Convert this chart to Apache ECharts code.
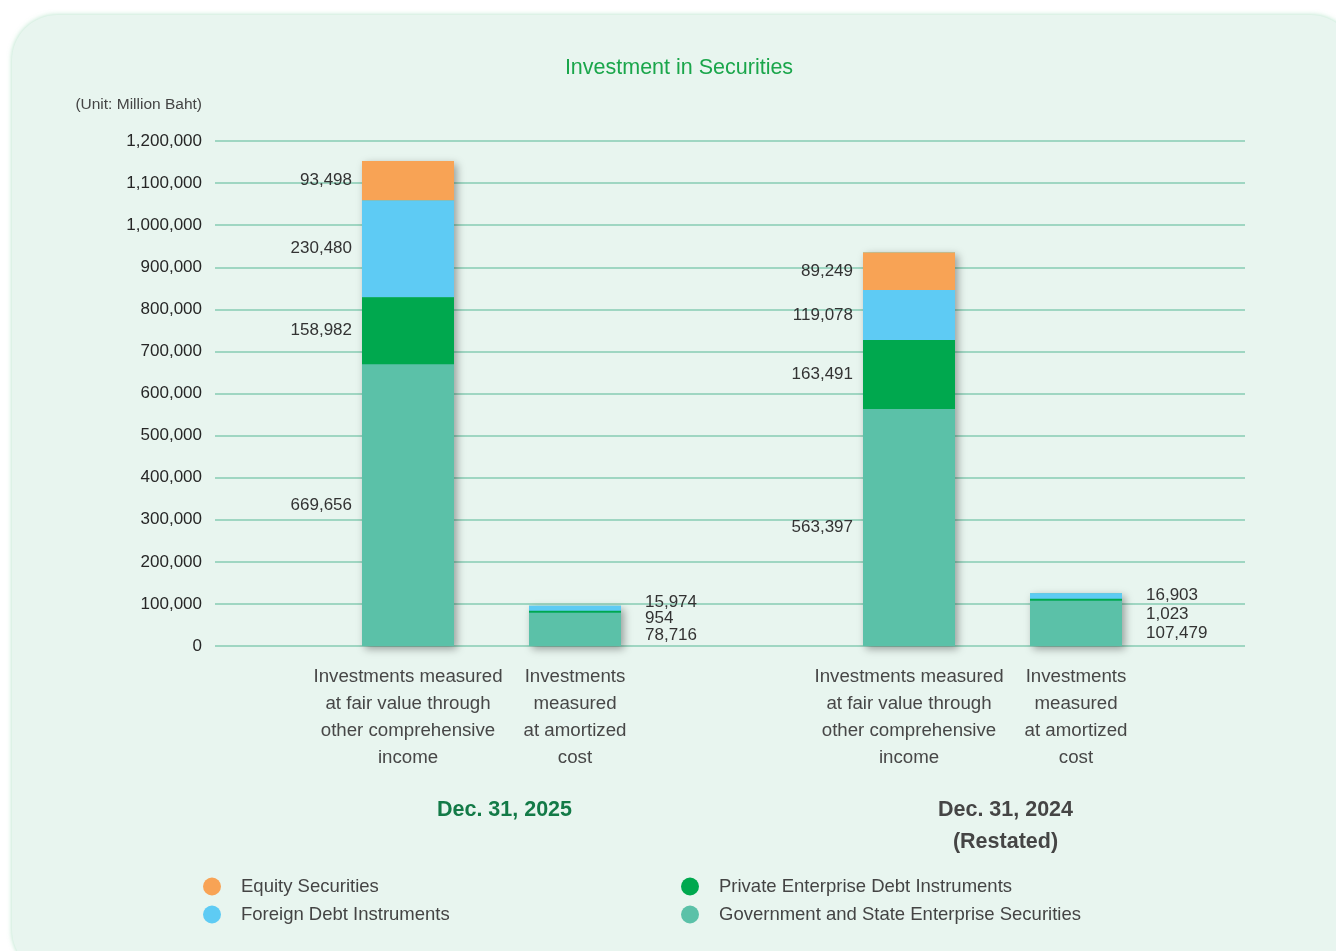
<!DOCTYPE html>
<html><head><meta charset="utf-8">
<script src="https://cdn.jsdelivr.net/npm/echarts@6/dist/echarts.min.js"></script>
<style>
html,body{margin:0;padding:0;background:#fff;width:1336px;height:951px;overflow:hidden}
#panel{position:absolute;left:12px;top:15px;width:1344px;height:960px;border-radius:45px;background:#e8f5ef;box-shadow:0 0 5px rgba(110,200,150,0.55)}
#chart{position:absolute;left:0;top:0;width:1336px;height:951px}
</style></head>
<body><div id="panel"></div><div id="chart"></div>
<script>
// ---- data ----
const categories = [
  'Investments measured\nat fair value through\nother comprehensive\nincome',
  'Investments\nmeasured\nat amortized\ncost',
  'Investments measured\nat fair value through\nother comprehensive\nincome',
  'Investments\nmeasured\nat amortized\ncost'
];
const periods = ['Dec. 31, 2025', 'Dec. 31, 2024\n(Restated)'];
const seriesNames = ['Equity Securities', 'Foreign Debt Instruments', 'Private Enterprise Debt Instruments', 'Government and State Enterprise Securities'];
const equity      = [93498, null, 89249, null];
const foreignDebt = [230480, 15974, 119078, 16903];
const privateDebt = [158982, 954, 163491, 1023];
const government  = [669656, 78716, 563397, 107479];
const yMin = 0, yMax = 1200000, yStep = 100000;

// ---- styling ----
const colors = ['#f8a355', '#5ecbf4', '#00a84e', '#5bc1a8'];
const FONT = 'Liberation Sans, Arial, Helvetica, sans-serif';
// label vertical offsets for the small (amortized cost) bars, per series [2025, 2024]
const smallOffsets = { foreign: [-7, -1], private: [6, 15], government: [6, 10] };

function slots(arr, gapVal) { return [arr[0], arr[1], gapVal, arr[2], arr[3]]; }
const slotCats = slots(categories, '');
const smallIdx = [1, 4];

function buildData(arr, key) {
  const d = slots(arr, '-');
  return d.map((v, i) => {
    if (v === null || v === '-') return '-';
    const si = smallIdx.indexOf(i);
    if (si >= 0 && key) {
      return { value: v, label: { show: true, position: 'right', distance: 24, offset: [0, smallOffsets[key][si]] } };
    }
    return v;
  });
}
const totals = categories.map((c, i) => (equity[i] || 0) + foreignDebt[i] + privateDebt[i] + government[i]);

const labelStyle = { show: true, position: 'left', distance: 10, fontSize: 17, color: '#333', fontFamily: FONT,
  formatter: p => Number(p.value).toLocaleString('en-US') };

function barSeries(name, arr, key, color, extra) {
  return Object.assign({
    name: name, type: 'bar', stack: 'total', xAxisIndex: 1, yAxisIndex: 1,
    barWidth: 92, barGap: '-100%', z: 3,
    itemStyle: { color: color },
    label: labelStyle,
    data: buildData(arr, key)
  }, extra || {});
}

const chart = echarts.init(document.getElementById('chart'), null, { renderer: 'canvas' });
const gridTop = 141, gridBottom = 305;
const legendText = { fontSize: 18.5, lineHeight: 18, color: '#444', fontFamily: FONT };
const option = {
  animation: false,
  backgroundColor: 'transparent',
  textStyle: { fontFamily: FONT },
  grid: [
    { left: 215, right: 91, top: gridTop, bottom: gridBottom },
    { left: 324.5, right: 176.5, top: gridTop, bottom: gridBottom }
  ],
  xAxis: [
    { type: 'value', gridIndex: 0, min: 0, max: 1, show: false },
    { type: 'category', gridIndex: 1, data: slotCats,
      axisLine: { show: false }, axisTick: { show: false },
      axisLabel: { interval: 0, margin: 17, fontSize: 18.7, lineHeight: 27, color: '#474747', fontFamily: FONT } }
  ],
  yAxis: [
    { type: 'value', gridIndex: 0, min: yMin, max: yMax, interval: yStep,
      axisLine: { show: false }, axisTick: { show: false },
      axisLabel: { margin: 13, fontSize: 17, color: '#262626', fontFamily: FONT,
        formatter: v => v.toLocaleString('en-US') },
      splitLine: { lineStyle: { color: '#9fd6c2', width: 2 } } },
    { type: 'value', gridIndex: 1, min: yMin, max: yMax, interval: yStep, show: false, splitLine: { show: false } }
  ],
  legend: [
    { data: [seriesNames[0], seriesNames[1]], orient: 'vertical', left: 198, top: 872,
      icon: 'circle', itemWidth: 48, itemHeight: 18, itemGap: 9, textStyle: legendText },
    { data: [seriesNames[2], seriesNames[3]], orient: 'vertical', left: 676, top: 872,
      icon: 'circle', itemWidth: 48, itemHeight: 18, itemGap: 9, textStyle: legendText }
  ],
  series: [
    { name: '_shadow', type: 'bar', stack: 'shadow', xAxisIndex: 1, yAxisIndex: 1, barWidth: 92, barGap: '-100%',
      silent: true, z: 2,
      itemStyle: { color: '#5bc1a8', shadowBlur: 8, shadowColor: 'rgba(0,0,0,0.35)', shadowOffsetX: 3, shadowOffsetY: 3 },
      data: slots(totals, '-') },
    barSeries(seriesNames[3], government, 'government', colors[3]),
    barSeries(seriesNames[2], privateDebt, 'private', colors[2], { barMinHeight: 2, z: 4 }),
    barSeries(seriesNames[1], foreignDebt, 'foreign', colors[1]),
    barSeries(seriesNames[0], equity, null, colors[0])
  ]
};
chart.setOption(option);

const c0 = chart.convertToPixel({ xAxisIndex: 1 }, 0), c1 = chart.convertToPixel({ xAxisIndex: 1 }, 1);
const c3 = chart.convertToPixel({ xAxisIndex: 1 }, 3), c4 = chart.convertToPixel({ xAxisIndex: 1 }, 4);
const periodColors = ['#137a47', '#454545'];
chart.setOption({ graphic: [
  { type: 'text', x: 679, y: 68, style: { text: 'Investment in Securities', align: 'center', verticalAlign: 'middle',
      fontSize: 21.5, fill: '#1aa64b', fontFamily: FONT } },
  { type: 'text', x: 202, y: 105, style: { text: '(Unit: Million Baht)', align: 'right', verticalAlign: 'middle',
      fontSize: 15.5, fill: '#444', fontFamily: FONT } },
  { type: 'text', x: (c0 + c1) / 2 + 13, y: 794, style: { text: periods[0], align: 'center', verticalAlign: 'top',
      fontSize: 21.5, fontWeight: 'bold', lineHeight: 32, fill: periodColors[0], fontFamily: FONT } },
  { type: 'text', x: (c3 + c4) / 2 + 13, y: 794, style: { text: periods[1], align: 'center', verticalAlign: 'top',
      fontSize: 21.5, fontWeight: 'bold', lineHeight: 32, fill: periodColors[1], fontFamily: FONT } }
] });
</script>
</body></html>
